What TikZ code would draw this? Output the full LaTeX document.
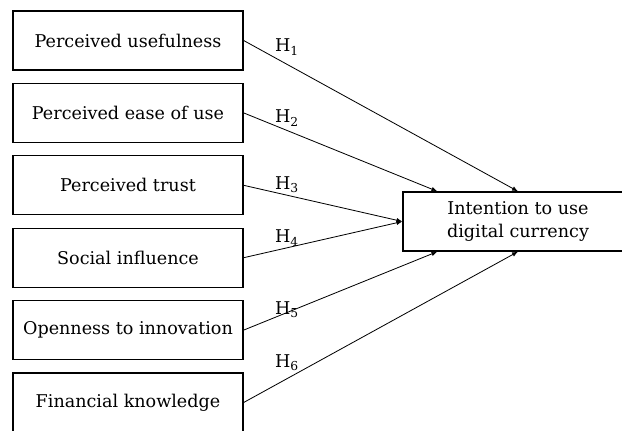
\documentclass[tikz,border=0pt]{standalone}
\usepackage{fontspec}
\setmainfont{DejaVu Serif}
\usetikzlibrary{positioning,arrows.meta}
\tikzset{
  factor/.style = {draw, line width = 1.1pt, minimum width = 6.9cm, minimum height = 1.77cm,
                   align = center, font = \fontsize{15}{19}\selectfont},
  hyp/.style = {font = \fontsize{15}{19}\selectfont, inner sep = 0pt}
}
\begin{document}
\begin{tikzpicture} [-{Latex[length=5pt,width=4pt]}, line width = 0.7pt, node distance = 2.172cm,
                     x = 0.03cm, y = -0.03cm]
        \useasboundingbox (0,0) rectangle (622,431);

        \node [factor] (pu) at (128,40.5) {Perceived usefulness};
        \node [factor] (peou) [below of = pu] {Perceived ease of use};
        \node [factor] (pt) [below of = peou] {Perceived trust};
        \node [factor] (si) [below of = pt] {Social influence};
        \node [factor] (oi) [below of = si] {Openness to innovation};
        \node [factor] (fk) [below of = oi] {Financial knowledge};

        \node [factor] (iu) at (518,221.5) {Intention to use\\digital currency};

        \path (pu.east) edge (iu.north);
        \path (peou.east) edge ([xshift=1.05cm]iu.north west);
        \path (pt.east) edge (iu.west);
        \path (si.east) edge (iu.west);
        \path (oi.east) edge ([xshift=1.05cm]iu.south west);
        \path (fk.east) edge (iu.south);

        \node [hyp] (h1) at (287,47) {H\textsubscript{1}};
        \node [hyp] (h2) at (287,118) {H\textsubscript{2}};
        \node [hyp] (h3) at (287,185) {H\textsubscript{3}};
        \node [hyp] (h4) at (287,238) {H\textsubscript{4}};
        \node [hyp] (h5) at (287,310) {H\textsubscript{5}};
        \node [hyp] (h6) at (287,363) {H\textsubscript{6}};

    \end{tikzpicture}
\end{document}
